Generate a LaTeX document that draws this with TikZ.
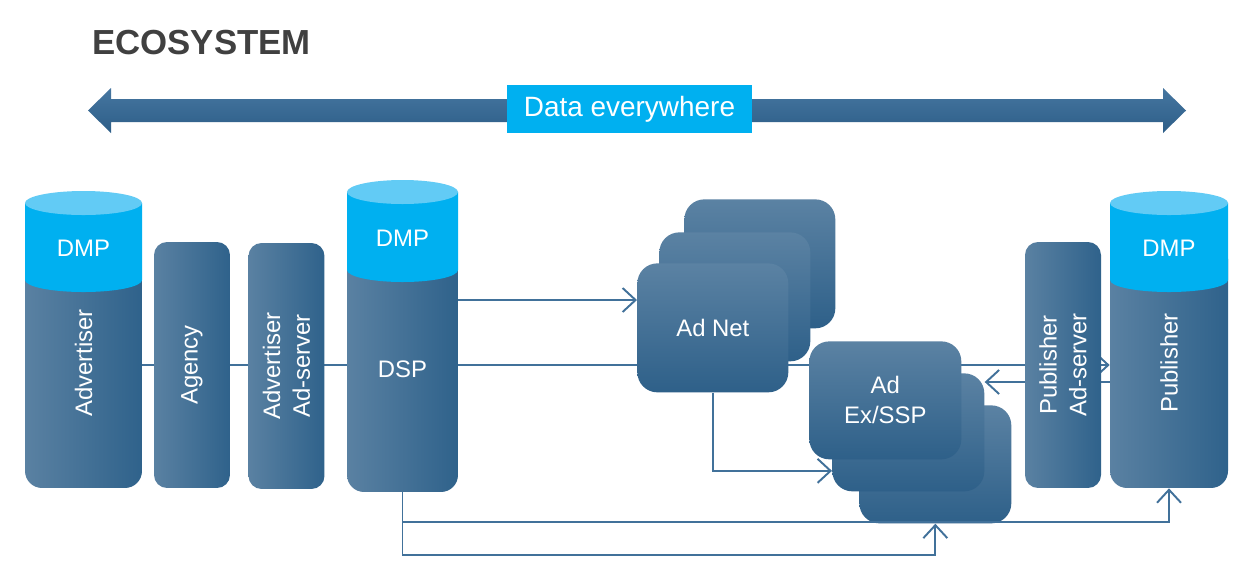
\documentclass[tikz,border=0pt]{standalone}
\usepackage{fontspec}
\setmainfont{Liberation Sans}
\usetikzlibrary{arrows.meta,backgrounds,positioning}

\definecolor{bodyL}{HTML}{5A81A2}
\definecolor{bodyR}{HTML}{2F628B}
\definecolor{cardT}{HTML}{5B82A3}
\definecolor{cardB}{HTML}{2E6089}
\definecolor{arrT}{HTML}{4676A0}
\definecolor{arrB}{HTML}{2D5E88}
\definecolor{dmpc}{HTML}{00B0F0}
\definecolor{dmptop}{HTML}{62CBF5}
\definecolor{linec}{HTML}{41719A}
\definecolor{titlec}{HTML}{404040}

\tikzset{
  body/.style={rectangle, rounded corners=0.34cm, left color=bodyL, right color=bodyR, inner sep=0pt, minimum height=4.92cm},
  vbox/.style={body, rounded corners=0.26cm, minimum width=1.52cm},
  card/.style={rectangle, rounded corners=0.4cm, top color=cardT, bottom color=cardB, anchor=north west, inner sep=0pt},
  wtext/.style={text=white, font=\fontsize{13.6}{17}\selectfont, align=center},
  vtext/.style={wtext, rotate=90},
  link/.style={draw=linec, line width=1.1pt, -{Straight Barb[length=2.6mm,width=4.8mm]}},
}

\begin{document}
\begin{tikzpicture}[x=0.02cm, y=0.02cm]
\useasboundingbox (0,0) rectangle (1257,-576);

% Title
\node[anchor=base west, inner sep=0pt, text=titlec, font=\bfseries\fontsize{19.8}{22}\selectfont] (title) at (92,-54) {ECOSYSTEM};

% Data arrow
\shade[top color=arrT, bottom color=arrB] (88,-110.5) -- (111,-88) -- (111,-99) -- (1163,-99) -- (1163,-88) -- (1186,-110.5) -- (1163,-133) -- (1163,-122) -- (111,-122) -- (111,-133) -- cycle;
\node[fill=dmpc, text=white, inner sep=0pt, minimum width=4.9cm, minimum height=0.96cm, font=\fontsize{15.9}{18}\selectfont] (data) at (629.5,-109) {Data everywhere};

% Advertiser
\node[body, minimum width=2.34cm] (adv) at (83.5,-365) {};
\fill[dmpc] (25,-203) -- (25,-280) arc[start angle=180, end angle=360, x radius=58.5, y radius=12] -- (142,-203) -- cycle;
\fill[dmptop] (83.5,-203) ellipse[x radius=58.5, y radius=12];
\node[wtext] (advdmp) at (83.5,-248) {DMP};
\node[vtext] (advtxt) at (83.5,-363) {Advertiser};

% Agency and ad-server
\node[vbox] (agency) at (192,-365) {};
\node[vtext] (agencytxt) at (agency) {Agency};
\node[vbox] (advsrv) at (286.5,-366) {};
\node[vtext] (advsrvtxt) at (advsrv) {Advertiser\\Ad-server};

% DSP
\node[body, minimum width=2.22cm, minimum height=5.08cm] (dsp) at (402.5,-365) {};
\fill[dmpc] (347,-192) -- (347,-270) arc[start angle=180, end angle=360, x radius=55.5, y radius=12] -- (458,-192) -- cycle;
\fill[dmptop] (402.5,-192) ellipse[x radius=55.5, y radius=12];
\node[wtext] (dspdmp) at (402.5,-238) {DMP};
\node[wtext] (dsptxt) at (402.5,-369) {DSP};

% Ad Net stack
\node[card, minimum width=3.02cm, minimum height=2.58cm] (adnet3) at (684,-199) {};
\node[card, minimum width=3.02cm, minimum height=2.58cm] (adnet2) at (659,-232) {};
\node[card, minimum width=3.02cm, minimum height=2.58cm, wtext] (adnet) at (637,-263) {Ad Net};

% Ad Ex stack
\node[card, minimum width=3.04cm, minimum height=2.36cm] (adex3) at (859,-405) {};
\node[card, minimum width=3.04cm, minimum height=2.36cm] (adex2) at (832,-373) {};
\node[card, minimum width=3.04cm, minimum height=2.36cm, wtext] (adex) at (809,-341) {Ad\\Ex/SSP};

% Publisher
\node[vbox] (pubsrv) at (1063,-365) {};
\node[vtext] (pubsrvtxt) at (pubsrv) {Publisher\\Ad-server};
\node[body, minimum width=2.36cm] (pub) at (1169,-365) {};
\fill[dmpc] (1110,-203) -- (1110,-280) arc[start angle=180, end angle=360, x radius=59, y radius=12] -- (1228,-203) -- cycle;
\fill[dmptop] (1169,-203) ellipse[x radius=59, y radius=12];
\node[wtext] (pubdmp) at (1169,-248) {DMP};
\node[vtext] (pubtxt) at (1169,-363) {Publisher};

% Links behind the boxes
\begin{scope}[on background layer]
\fill[white] (0,0) rectangle (1257,-576);
\draw[link] (adv) -- (pub);
\draw[link] ([yshift=-0.34cm]pub.west) -- ([yshift=-0.34cm]pub.west -| adex2.east);
\end{scope}

% Links
\draw[link] ([yshift=1.3cm]dsp.east) -- ([yshift=1.3cm]dsp.east -| adnet.west);
\draw[link] (adnet.south) |- ([yshift=-0.77cm]adex2.west);
\draw[link] (dsp.south) -- ++(0,-30) -| (pub.south);
\draw[link] (dsp.south) -- ++(0,-63) -| (adex3.south);
\end{tikzpicture}
\end{document}
